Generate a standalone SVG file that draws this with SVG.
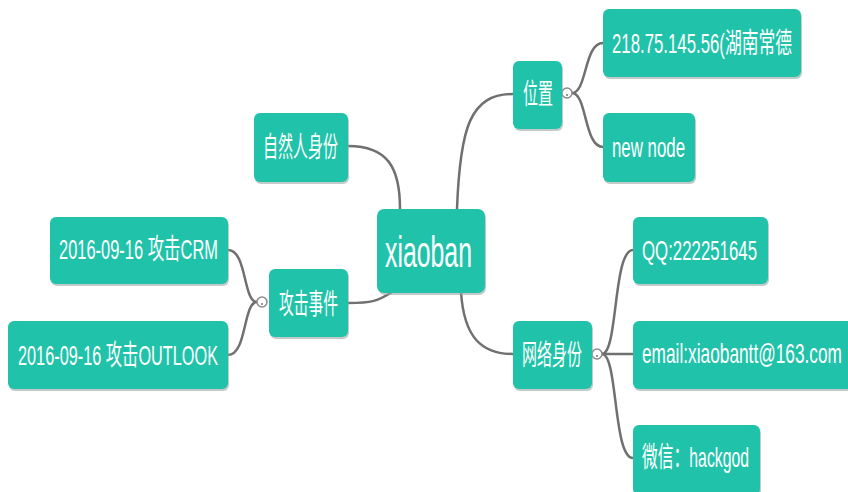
<svg xmlns="http://www.w3.org/2000/svg" width="848" height="492" viewBox="0 0 848 492">
<defs>
<style>
.box{fill:#20c3a9;}
.sh{fill:#9aa8a5;opacity:0.6;}
.t{font-family:"Liberation Sans","Noto Sans CJK SC",sans-serif;font-size:28px;fill:#ffffff;}
.big{font-size:44px;}
.c{fill:none;stroke:#707070;stroke-width:2.5;stroke-linecap:round;}
.fold{fill:#ffffff;stroke:#8a8a8a;stroke-width:1.5;}
</style>
</defs>
<rect width="848" height="492" fill="#ffffff"/>
<g id="connectors">
<path class="c" d="M348,146 C388,146 400,168 400,209"/>
<path class="c" d="M348,303 C372,303 378,301 392,292"/>
<path class="c" d="M457,209 C460,128 470,94 513,94"/>
<path class="c" d="M461,292 C464,338 482,354 513,354"/>
<path class="c" d="M572,93 C587,93 584,43 603,43"/>
<path class="c" d="M572,93 C587,93 584,147 603,147"/>
<path class="c" d="M257,302 C243,302 247,250 228,250"/>
<path class="c" d="M257,302 C243,302 247,355 228,355"/>
<path class="c" d="M602,354 C618,354 613,250 633,250"/>
<path class="c" d="M602,354 L633,354"/>
<path class="c" d="M602,354 C618,354 613,458 633,458"/>
<circle class="fold" cx="567" cy="93" r="5"/>
<circle cx="567" cy="95" r="1" fill="#777"/>
<circle class="fold" cx="262" cy="302" r="5"/>
<circle cx="262" cy="304" r="1" fill="#777"/>
<circle class="fold" cx="597" cy="354" r="5"/>
<circle cx="597" cy="356" r="1" fill="#777"/>
</g>
<g id="n-ziran">
<rect class="sh" x="255" y="115" width="94" height="69" rx="6"/>
<rect class="box" x="254" y="113" width="94" height="69" rx="6"/>
<text class="t" x="263" y="157" textLength="75" lengthAdjust="spacingAndGlyphs">自然人身份</text>
</g>
<g id="n-crm">
<rect class="sh" x="51" y="219" width="178" height="67" rx="6"/>
<rect class="box" x="50" y="217" width="178" height="67" rx="6"/>
<text class="t" x="59" y="259" textLength="159" lengthAdjust="spacingAndGlyphs">2016-09-16 攻击CRM</text>
</g>
<g id="n-outlook">
<rect class="sh" x="9" y="323" width="220" height="68" rx="6"/>
<rect class="box" x="8" y="321" width="220" height="68" rx="6"/>
<text class="t" x="18" y="365" textLength="200" lengthAdjust="spacingAndGlyphs">2016-09-16 攻击OUTLOOK</text>
</g>
<g id="n-gongji">
<rect class="sh" x="270" y="271" width="79" height="68" rx="6"/>
<rect class="box" x="269" y="269" width="79" height="68" rx="6"/>
<text class="t" x="279" y="314" textLength="59" lengthAdjust="spacingAndGlyphs">攻击事件</text>
</g>
<g id="n-xiaoban">
<rect class="sh" x="378" y="211" width="108" height="84" rx="7"/>
<rect class="box" x="377" y="209" width="108" height="84" rx="7"/>
<text class="t big" x="385" y="267" textLength="87" lengthAdjust="spacingAndGlyphs">xiaoban</text>
</g>
<g id="n-weizhi">
<rect class="sh" x="514" y="63" width="49" height="68" rx="6"/>
<rect class="box" x="513" y="61" width="49" height="68" rx="6"/>
<text class="t" x="523" y="104" textLength="30" lengthAdjust="spacingAndGlyphs">位置</text>
</g>
<g id="n-ip">
<rect class="sh" x="604" y="11" width="198" height="68" rx="6"/>
<rect class="box" x="603" y="9" width="198" height="68" rx="6"/>
<text class="t" x="612" y="53" textLength="180" lengthAdjust="spacingAndGlyphs">218.75.145.56(湖南常德</text>
</g>
<g id="n-newnode">
<rect class="sh" x="604" y="115" width="92" height="69" rx="6"/>
<rect class="box" x="603" y="113" width="92" height="69" rx="6"/>
<text class="t" x="612" y="157" textLength="73" lengthAdjust="spacingAndGlyphs">new node</text>
</g>
<g id="n-wangluo">
<rect class="sh" x="514" y="323" width="79" height="68" rx="6"/>
<rect class="box" x="513" y="321" width="79" height="68" rx="6"/>
<text class="t" x="522" y="365" textLength="60" lengthAdjust="spacingAndGlyphs">网络身份</text>
</g>
<g id="n-qq">
<rect class="sh" x="634" y="219" width="135" height="67" rx="6"/>
<rect class="box" x="633" y="217" width="135" height="67" rx="6"/>
<text class="t" x="642" y="260" textLength="115" lengthAdjust="spacingAndGlyphs">QQ:222251645</text>
</g>
<g id="n-email">
<rect class="sh" x="634" y="323" width="222" height="68" rx="6"/>
<rect class="box" x="633" y="321" width="222" height="68" rx="6"/>
<text class="t" x="642" y="363" textLength="200" lengthAdjust="spacingAndGlyphs">email:xiaobantt@163.com</text>
</g>
<g id="n-weixin">
<rect class="sh" x="634" y="427" width="127" height="70" rx="6"/>
<rect class="box" x="633" y="425" width="127" height="70" rx="6"/>
<text class="t" x="642" y="467" textLength="107" lengthAdjust="spacingAndGlyphs">微信：hackgod</text>
</g>
</svg>
